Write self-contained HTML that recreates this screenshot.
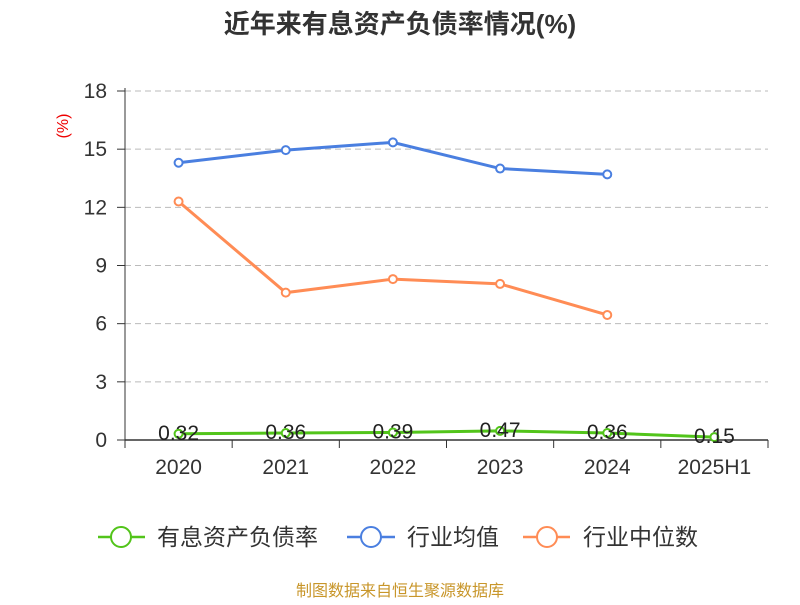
<!DOCTYPE html>
<html><head><meta charset="utf-8"><style>
body{margin:0;background:#fff;font-family:"Liberation Sans","Noto Sans CJK SC",sans-serif;}
svg text{font-family:"Liberation Sans","Noto Sans CJK SC",sans-serif;}
</style></head><body>
<svg id="chart" width="800" height="600">
<text x="400" y="33" text-anchor="middle" font-size="26" font-weight="bold" fill="#333">近年来有息资产负债率情况(%)</text>
<text x="68" y="126" font-size="16" fill="#e00" transform="rotate(-90 68 126)" text-anchor="middle">(%)</text>
<g id="grid"></g><g id="axes"></g><g id="series"></g>
<g>
<g><line x1="98" y1="537" x2="145" y2="537" stroke="#52c41a" stroke-width="2.5"/><circle cx="121" cy="537" r="10" fill="#fff" stroke="#52c41a" stroke-width="2"/><text x="157" y="545" font-size="23" fill="#333">有息资产负债率</text></g>
<g><line x1="347" y1="537" x2="395" y2="537" stroke="#4a7fe0" stroke-width="2.5"/><circle cx="371" cy="537" r="10" fill="#fff" stroke="#4a7fe0" stroke-width="2"/><text x="407" y="545" font-size="23" fill="#333">行业均值</text></g>
<g><line x1="523" y1="537" x2="570" y2="537" stroke="#ff8c55" stroke-width="2.5"/><circle cx="547" cy="537" r="10" fill="#fff" stroke="#ff8c55" stroke-width="2"/><text x="583" y="545" font-size="23" fill="#333">行业中位数</text></g>
</g>
<text x="400" y="596" text-anchor="middle" font-size="16" fill="#c8962a">制图数据来自恒生聚源数据库</text>
</svg>
<script>
const categories=["2020","2021","2022","2023","2024","2025H1"];
const debtRatio=[0.32,0.36,0.39,0.47,0.36,0.15];
const industryAvg=[14.3,14.95,15.35,14.0,13.7];
const industryMedian=[12.3,7.6,8.3,8.05,6.45];
const yTicks=[0,3,6,9,12,15,18];
const NS="http://www.w3.org/2000/svg";
const x0=125,x1=768,y0=440,y1=91,yMax=18;
const bw=(x1-x0)/categories.length;
const xs=i=>x0+bw*(i+0.5);
const ys=v=>y0-(v/yMax)*(y0-y1);
function mk(tag,attrs,parent,txt){const e=document.createElementNS(NS,tag);for(const k in attrs)e.setAttribute(k,attrs[k]);if(txt!==undefined)e.textContent=txt;document.getElementById(parent).appendChild(e);return e;}
yTicks.forEach(t=>{
  if(t>0){const g=mk("line",{x1:x0,x2:x1,y1:ys(t),y2:ys(t),stroke:"#bbb","stroke-dasharray":"6,4"},"grid");
  
  }
  const tk=mk("line",{x1:x0-8,x2:x0,y1:ys(t),y2:ys(t),stroke:"#333"},"axes");
  
  
  const l=mk("text",{x:x0-18,y:ys(t)+7,"text-anchor":"end","font-size":"21",fill:"#333"},"axes",t);
  
  
});
const ya=mk("line",{x1:x0,x2:x0,y1:y1-3,y2:y0,stroke:"#333"},"axes");


const xa=mk("line",{x1:x0,x2:x1,y1:y0,y2:y0,stroke:"#333","stroke-width":"1.5"},"axes");


for(let i=0;i<=categories.length;i++){
  const tk=mk("line",{x1:x0+bw*i,x2:x0+bw*i,y1:y0,y2:y0+8,stroke:"#333"},"axes");
  
  
}
categories.forEach((c,i)=>{
  const l=mk("text",{x:xs(i),y:y0+34,"text-anchor":"middle","font-size":"21",fill:"#333"},"axes",c);
  
  
});
function series(vals,color,name,labels){
  const pts=vals.map((v,i)=>xs(i)+","+ys(v)).join(" ");
  const pl=mk("polyline",{points:pts,fill:"none",stroke:color,"stroke-width":"3"},"series");
  
  
  vals.forEach((v,i)=>{
    const c=mk("circle",{cx:xs(i),cy:ys(v),r:"4",fill:"#fff",stroke:color,"stroke-width":"2"},"series");
    
    
    if(labels){const t=mk("text",{x:xs(i),y:ys(v)+6,"text-anchor":"middle","font-size":"21",fill:"#222"},"series",v.toFixed(2));
    
    }
  });
}
series(industryAvg,"#4a7fe0","industry-average",false);
series(industryMedian,"#ff8c55","industry-median",false);
series(debtRatio,"#52c41a","debt-ratio",true);
</script>
</body></html>
